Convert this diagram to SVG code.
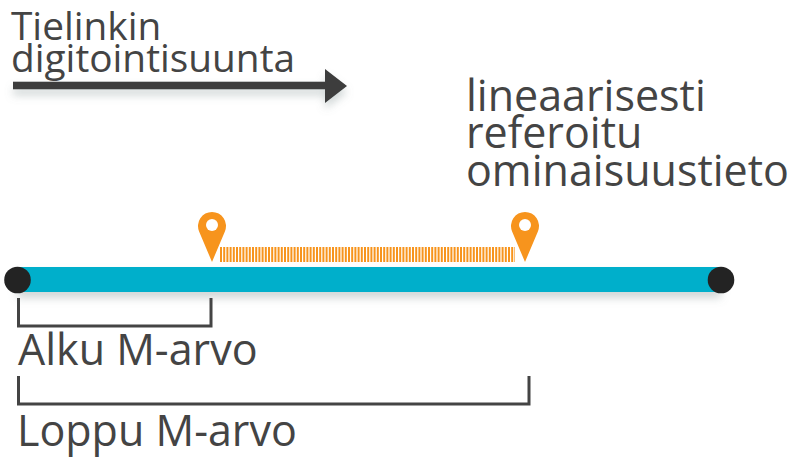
<svg xmlns="http://www.w3.org/2000/svg" width="791" height="458" viewBox="0 0 791 458">
  <defs>
    <style>
      .t { font-family: "Open Sans", "Noto Sans", sans-serif; fill: #444; }
      .br { fill: none; stroke: #444; stroke-width: 3; }
      .pin { fill: #F7941D; }
      .dot { fill: #232323; }
    </style>
    <filter id="sh" x="-5%" y="-50%" width="110%" height="250%">
      <feDropShadow dx="0" dy="6" stdDeviation="4" flood-color="#7a8a8a" flood-opacity="0.35"/>
    </filter>
    <path id="pinShape" d="M0,36 L-12.9,5.4 A14,14 0 1 1 12.9,5.4 Z"/>
  </defs>
  <rect width="791" height="458" fill="#ffffff"/>

  <g id="direction">
    <g filter="url(#sh)">
      <rect x="13" y="81.7" width="314" height="7.6" fill="#3c3c3c"/>
      <polygon points="325,69 347,86 325,103" fill="#3c3c3c"/>
    </g>
    <text class="t" font-size="38.8" x="11" y="40">Tielinkin</text>
    <text class="t" font-size="38.8" x="11" y="72">digitointisuunta</text>
  </g>

  <g id="label-feature">
    <text class="t" font-size="43" x="466" y="111">lineaarisesti</text>
    <text class="t" font-size="43" x="466" y="148">referoitu</text>
    <text class="t" font-size="43" x="466" y="186">ominaisuustieto</text>
  </g>

  <g id="tielinkki">
    <rect x="17" y="267" width="704" height="25" fill="#00AFCB" filter="url(#sh)"/>
    <circle class="dot" cx="17.5" cy="280" r="13.3"/>
    <circle class="dot" cx="721" cy="280" r="13.3"/>
  </g>

  <g id="feature">
    <line x1="220" y1="254.5" x2="515" y2="254.5" stroke="#F7941D" stroke-width="15" stroke-dasharray="2 1.2"/>
    <g id="pin-start" transform="translate(212,226)">
      <use href="#pinShape" class="pin"/>
      <circle cx="0" cy="-1" r="6" fill="#ffffff"/>
    </g>
    <g id="pin-end" transform="translate(525,226)">
      <use href="#pinShape" class="pin"/>
      <circle cx="0" cy="-1" r="6" fill="#ffffff"/>
    </g>
  </g>

  <g id="connectors">
    <path class="br" d="M18.5,298 V326 H211 V298"/>
    <path class="br" d="M18.5,376 V404 H529 V376"/>
  </g>

  <g id="label-alku">
    <text class="t" font-size="43" x="18" y="365">Alku M-arvo</text>
  </g>
  <g id="label-loppu">
    <text class="t" font-size="43" x="17" y="446">Loppu M-arvo</text>
  </g>
</svg>
